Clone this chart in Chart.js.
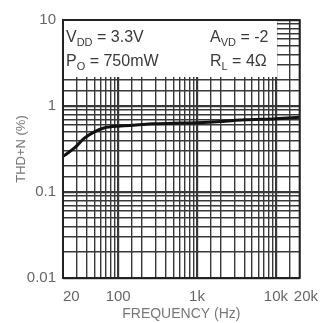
<!DOCTYPE html>
<html>
<head>
<meta charset="utf-8">
<script src="https://cdn.jsdelivr.net/npm/chart.js@4"></script>
<style>
  body { margin: 0; background: #fff; }
  #wrap { width: 328px; height: 323px; }
</style>
</head>
<body>
<div id="wrap"><canvas id="thdChart" width="328" height="323"></canvas></div>
<script>
// THD+N vs frequency
const freqHz = [20, 28, 37, 50, 66, 107, 169, 274, 500, 1000, 2000, 4000, 10000, 20000];
const thdPct = [0.26, 0.325, 0.42, 0.50, 0.555, 0.585, 0.60, 0.62, 0.63, 0.64, 0.66, 0.69, 0.71, 0.74];

const xTickLabels = { 20: '    20', 100: '100', 1000: '1k', 10000: '10k', 20000: '   20k' };
const yTickLabels = { 0.01: '0.01', 0.1: '0.1', 1: '1', 10: '10' };

const FONT = 'Liberation Sans, Arial, sans-serif';

function findLabel(map, v) {
    for (const k in map) {
        if (Math.abs(v - Number(k)) < Number(k) * 1e-6) return map[k];
    }
    return '';
}

function isDecade(v) {
    const l = Math.log10(v);
    return Math.abs(l - Math.round(l)) < 1e-6;
}

// white note box + frame
const notesPlugin = {
    id: 'notes',
    beforeDatasetsDraw(chart) {
        const c = chart.ctx;
        const a = chart.chartArea;
        c.save();
        c.fillStyle = '#fff';
        c.fillRect(a.left, a.top, 214, 57);
        c.fillStyle = '#3a3a3a';
        c.textBaseline = 'alphabetic';

        function sub(x, y, main, s, rest) {
            c.font = '16px ' + FONT;
            c.fillText(main, x, y);
            x += c.measureText(main).width;
            c.font = '11px ' + FONT;
            c.fillText(s, x, y + 4);
            x += c.measureText(s).width;
            c.font = '16px ' + FONT;
            c.fillText(rest, x, y);
        }
        sub(66, 42, 'V', 'DD', ' = 3.3V');
        sub(66, 66, 'P', 'O', ' = 750mW');
        sub(210, 42, 'A', 'VD', ' = -2');
        sub(210, 66, 'R', 'L', ' = 4\u03a9');
        c.restore();
    },
    afterDraw(chart) {
        const c = chart.ctx;
        const a = chart.chartArea;
        c.save();
        c.strokeStyle = '#222';
        c.lineWidth = 2;
        c.strokeRect(a.left, a.top, a.right - a.left, a.bottom - a.top);
        c.restore();
    }
};

const ctx = document.getElementById('thdChart').getContext('2d');
new Chart(ctx, {
    type: 'scatter',
    data: {
        datasets: [{
            data: freqHz.map((f, i) => ({ x: f, y: thdPct[i] })),
            showLine: true,
            borderColor: '#111',
            borderWidth: 3,
            pointRadius: 0,
            cubicInterpolationMode: 'monotone'
        }]
    },
    options: {
        responsive: false,
        animation: false,
        devicePixelRatio: 1,
        layout: { padding: { left: 0, right: 21, top: 20, bottom: 0 } },
        plugins: { legend: { display: false }, tooltip: { enabled: false } },
        scales: {
            x: {
                type: 'logarithmic',
                min: 20,
                max: 20000,
                afterFit(scale) { scale.height = 45; },
                grid: {
                    color: '#383838',
                    lineWidth: c => isDecade(c.tick.value) ? 2.2 : 1.4,
                    drawTicks: false
                },
                border: { display: false },
                ticks: {
                    autoSkip: false,
                    maxRotation: 0,
                    padding: 10,
                    color: '#666',
                    font: { family: FONT, size: 15 },
                    callback: v => findLabel(xTickLabels, v)
                },
                title: {
                    display: true,
                    text: 'FREQUENCY (Hz)',
                    color: '#777',
                    font: { family: FONT, size: 14 },
                    padding: { top: 0, bottom: 0 }
                }
            },
            y: {
                type: 'logarithmic',
                min: 0.01,
                max: 10,
                afterFit(scale) { scale.width = 63; },
                grid: {
                    color: '#383838',
                    lineWidth: c => isDecade(c.tick.value) ? 2.2 : 1.4,
                    drawTicks: false
                },
                border: { display: false },
                ticks: {
                    autoSkip: false,
                    padding: 7,
                    color: '#666',
                    font: { family: FONT, size: 15 },
                    callback: v => findLabel(yTickLabels, v)
                },
                title: {
                    display: true,
                    text: 'THD+N (%)',
                    color: '#777',
                    font: { family: FONT, size: 13 },
                    padding: { top: 14, bottom: 4 }
                }
            }
        }
    },
    plugins: [notesPlugin]
});
</script>
</body>
</html>
